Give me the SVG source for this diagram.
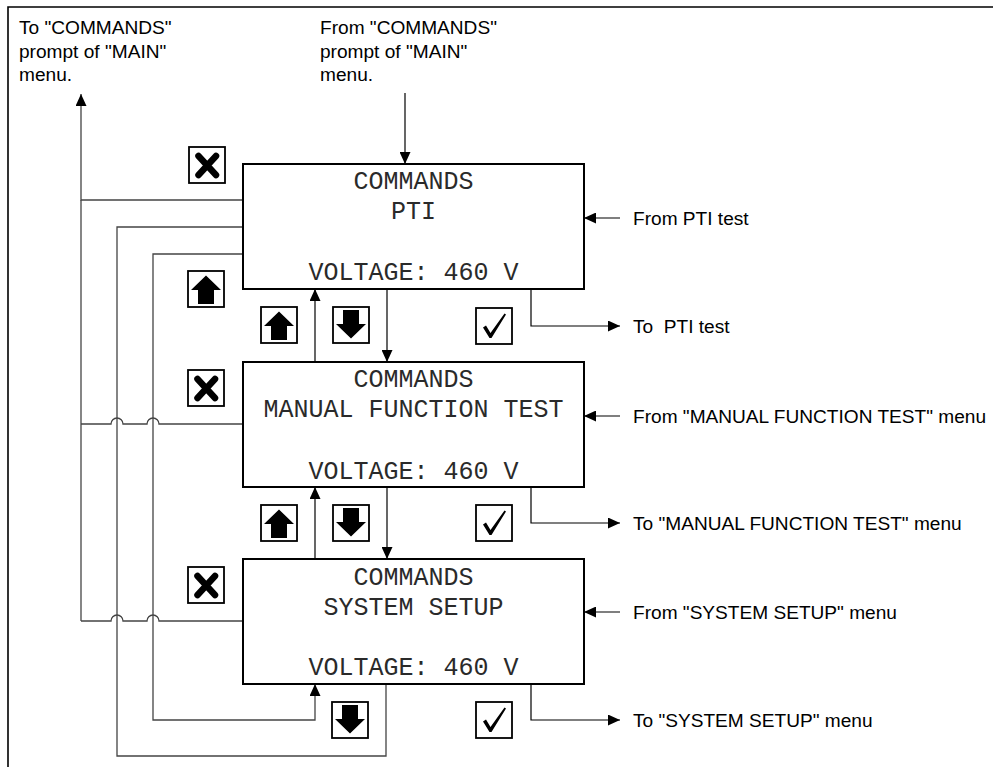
<svg xmlns="http://www.w3.org/2000/svg" xmlns:xlink="http://www.w3.org/1999/xlink" width="993" height="767" viewBox="0 0 993 767">
<style>
.frame{fill:none;stroke:#000;stroke-width:1.6}
.box{fill:#fff;stroke:#000;stroke-width:2}
.mono{font-family:"Liberation Mono","Courier New",monospace;font-size:25px;fill:#2a2a2a;text-anchor:middle}
.lbl{font-family:"Liberation Sans",Arial,sans-serif;font-size:19.1px;fill:#000}
.ln{fill:none;stroke:#000;stroke-width:1.2}
.ln2{fill:none;stroke:#444;stroke-width:1.3}
.ibox{fill:#fff;stroke:#000;stroke-width:1.8}
</style>
<defs>
<marker id="ah" markerUnits="userSpaceOnUse" markerWidth="13" markerHeight="11" refX="12" refY="5.5" orient="auto">
<path d="M0,0 L12,5.5 L0,11 Z" fill="#000"/>
</marker>
<symbol id="iX" viewBox="0 0 36 36" overflow="visible">
<rect class="ibox" x="0" y="0" width="36" height="36"/>
<path d="M9.5,9 L27,28 M27,9 L9.5,28" stroke="#000" stroke-width="6.5" stroke-linecap="round"/>
</symbol>
<symbol id="iUp" viewBox="0 0 36 36" overflow="visible">
<rect class="ibox" x="0" y="0" width="36" height="36"/>
<path d="M18,4.5 L33,19 L26,19 L26,33 L10,33 L10,19 L3,19 Z" fill="#000"/>
</symbol>
<symbol id="iDn" viewBox="0 0 36 36" overflow="visible">
<rect class="ibox" x="0" y="0" width="36" height="36"/>
<path d="M18,31.5 L33,17 L26,17 L26,3 L10,3 L10,17 L3,17 Z" fill="#000"/>
</symbol>
<symbol id="iOk" viewBox="0 0 36 36" overflow="visible">
<rect class="ibox" x="0" y="0" width="36" height="36"/>
<path d="M7,19.5 L10,17.5 L14.5,25 L28.5,5.5 L30,6.5 L15.5,30 L13.5,30 Z" fill="#000"/>
</symbol>
</defs>
<rect width="993" height="767" fill="#fff"/>
<path class="frame" d="M8,767 V7 H993"/>

<g id="labels">
<text class="lbl" x="19" y="34">To "COMMANDS"</text>
<text class="lbl" x="19" y="57.5">prompt of "MAIN"</text>
<text class="lbl" x="19" y="81">menu.</text>
<text class="lbl" x="320" y="34">From "COMMANDS"</text>
<text class="lbl" x="320" y="57.5">prompt of "MAIN"</text>
<text class="lbl" x="320" y="81">menu.</text>
<text class="lbl" x="633" y="225">From PTI test</text>
<text class="lbl" x="633" y="333" xml:space="preserve">To  PTI test</text>
<text class="lbl" x="633" y="423">From "MANUAL FUNCTION TEST" menu</text>
<text class="lbl" x="633" y="530" xml:space="preserve">To "MANUAL FUNCTION TEST" menu</text>
<text class="lbl" x="633" y="619">From "SYSTEM SETUP" menu</text>
<text class="lbl" x="633" y="727" xml:space="preserve">To "SYSTEM SETUP" menu</text>
</g>

<g id="connectors">
<path class="ln" d="M405,93 V164" marker-end="url(#ah)"/>
<path class="ln2" d="M243,200 H81 V94" marker-end="url(#ah)"/>
<path class="ln2" d="M81,200 V621"/>
<path class="ln2" d="M243,227 H117 V756 H386 V684"/>
<path class="ln2" d="M243,254 H153 V720 H315 V684" marker-end="url(#ah)"/>
<path class="ln2" d="M81,424 H111 A6,6 0 0 1 123,424 H147 A6,6 0 0 1 159,424 H243"/>
<path class="ln2" d="M81,621 H111 A6,6 0 0 1 123,621 H147 A6,6 0 0 1 159,621 H243"/>
<path class="ln" d="M315,362 V289" marker-end="url(#ah)"/>
<path class="ln" d="M387,289 V362" marker-end="url(#ah)"/>
<path class="ln" d="M315,559 V487" marker-end="url(#ah)"/>
<path class="ln" d="M387,487 V559" marker-end="url(#ah)"/>
<path class="ln" d="M620,218 H584" marker-end="url(#ah)"/>
<path class="ln" d="M531,289 V326 H620" marker-end="url(#ah)"/>
<path class="ln" d="M620,416 H584" marker-end="url(#ah)"/>
<path class="ln" d="M531,487 V523 H620" marker-end="url(#ah)"/>
<path class="ln" d="M620,612 H584" marker-end="url(#ah)"/>
<path class="ln" d="M531,684 V720 H620" marker-end="url(#ah)"/>
</g>

<g id="node-pti">
<rect class="box" x="243" y="164" width="341" height="125"/>
<text class="mono" x="413.5" y="188.5">COMMANDS</text>
<text class="mono" x="413.5" y="218.5">PTI</text>
<text class="mono" x="413.5" y="280">VOLTAGE: 460 V</text>
</g>
<g id="node-mft">
<rect class="box" x="243" y="362" width="341" height="125"/>
<text class="mono" x="413.5" y="387">COMMANDS</text>
<text class="mono" x="413.5" y="417">MANUAL FUNCTION TEST</text>
<text class="mono" x="413.5" y="479">VOLTAGE: 460 V</text>
</g>
<g id="node-setup">
<rect class="box" x="243" y="559" width="341" height="125"/>
<text class="mono" x="413.5" y="585">COMMANDS</text>
<text class="mono" x="413.5" y="614.5">SYSTEM SETUP</text>
<text class="mono" x="413.5" y="674.5">VOLTAGE: 460 V</text>
</g>

<g id="keys">
<use xlink:href="#iX" x="189" y="147" width="36" height="36"/>
<use xlink:href="#iUp" x="188" y="271" width="36" height="36"/>
<use xlink:href="#iUp" x="261" y="307" width="36" height="36"/>
<use xlink:href="#iDn" x="333" y="307" width="36" height="36"/>
<use xlink:href="#iOk" x="476" y="308" width="36" height="36"/>
<use xlink:href="#iX" x="188" y="370" width="36" height="36"/>
<use xlink:href="#iUp" x="261" y="505" width="36" height="36"/>
<use xlink:href="#iDn" x="333" y="505" width="36" height="36"/>
<use xlink:href="#iOk" x="476" y="505" width="36" height="36"/>
<use xlink:href="#iX" x="188" y="567" width="36" height="36"/>
<use xlink:href="#iDn" x="332" y="702" width="36" height="36"/>
<use xlink:href="#iOk" x="476" y="702" width="36" height="36"/>
</g>
</svg>
